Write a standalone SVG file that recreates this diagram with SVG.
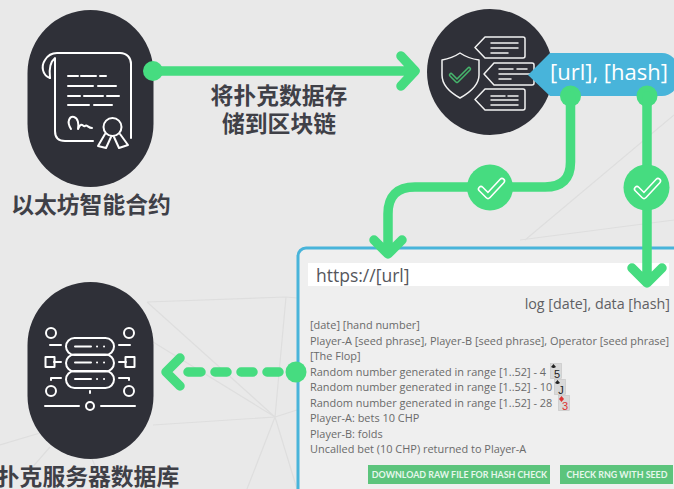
<svg xmlns="http://www.w3.org/2000/svg" width="674" height="489" viewBox="0 0 674 489">
<style>
.ln{fill:none;stroke:#fff;stroke-width:2;stroke-linecap:round;stroke-linejoin:round}
.t{stroke-width:1.5;stroke:#f2f2f2}
.g{fill:none;stroke:#46dc80;stroke-width:9.500;stroke-linecap:round;stroke-linejoin:round}
.dot{fill:#46dc80}
.bg{fill:none;stroke:#dedede;stroke-width:1.2}
.cn{font-family:"Noto Sans CJK SC",sans-serif;font-weight:700;font-size:22.800px;fill:#3f4047}
.lg{font-family:"Open Sans","Liberation Sans",sans-serif;font-size:10.950px;fill:#6a6a6a}
.ui{font-family:"Open Sans","Liberation Sans",sans-serif}
.btn{font-family:"Lato","Liberation Sans",sans-serif;font-weight:700;font-size:8.900px;fill:#e6f7ec;text-anchor:middle}
.card{fill:#d9d9d9;stroke:#c4c4c4;stroke-width:.6}
.num{font-family:"Liberation Sans",sans-serif;font-size:11px;text-anchor:middle}
.chk{fill:none;stroke:#fff;stroke-width:6.500;stroke-linecap:round;stroke-linejoin:round}
.chki{fill:none;stroke:#46dc80;stroke-width:3.400;stroke-linecap:round;stroke-linejoin:round}
</style>
<rect width="674" height="489" fill="#e9e9e9"/>
<g id="background">
<path class="bg" d="M147 302L286 297L297 298M147 302L275 417L153 425M275 417L297 410M275 417L247 489M275 417L297 489M286 297L275 417M153 342L275 417M0 445L40 433M50 447L30 470M92 459L105 489M674 115L525 240M674 220L520 240"/>
</g>
<g id="node-contract">
<rect x="27.500" y="10" width="126" height="177" rx="63" fill="#2f3038"/>
<g class="ln">
<path d="M50 78C42 75 41 66 45 60C48 55 52 53 57 53H120C127 53 131 58 131 64V138"/>
<path d="M50 78C49 70 50 62 55 58V131C55 138 59 141 65 141H93"/>
<path d="M68 76H78M81 76H96M100 76H106M68 86H93M98 86H116M68 96H80M84 96H103M107 96H119M68 105H89M94 105H112"/>
<path d="M71 129C66 121 70 116 74 117C78 118 79 124 78 129C82 120 83 128 85 126C87 124 88 128 92 128"/>
<circle cx="112.500" cy="127" r="9"/>
<path d="M105 134L98 146L106 148L111 137M120 134L128 145L119 148L114 137"/>
</g>
</g>
<g id="node-verify">
<circle cx="490" cy="72" r="63" fill="#2f3038"/>
<g class="ln t">
<path d="M460 53C454 57 448 59 442 60V75C442 86 451 93 460 98C469 93 479 86 479 75V60C472 59 466 57 460 53Z"/>
<path d="M485 37H523Q525 37 525 39V56Q525 58 523 58H485L475 47.500Z"/>
<path d="M494 63H532Q534 63 534 65V83Q534 85 532 85H494L484 74Z"/>
<path d="M485 89H523Q525 89 525 91V108Q525 110 523 110H485L475 99.500Z"/>
<path d="M491 43H518M491 48H518M491 53H508M499 69H513M517 69H527M499 74H534M499 79H511M491 96H505M508 96H518M491 100H518M491 105H518"/>
</g>
<path d="M451 75L457 81L469 69" fill="none" stroke="#46b56c" stroke-width="4.500" stroke-linecap="round" stroke-linejoin="round"/>
<path d="M451 75L457 81L469 69" fill="none" stroke="#2f3038" stroke-width="1.400" stroke-linecap="round" stroke-linejoin="round"/>
</g>
<g id="node-server">
<rect x="27.500" y="282" width="126" height="177" rx="63" fill="#2f3038"/>
<g class="ln" stroke-width="2.200">
<rect x="66" y="338" width="48" height="17" rx="8.500"/>
<rect x="66" y="354.500" width="48" height="17" rx="8.500"/>
<rect x="66" y="371" width="48" height="17" rx="8.500"/>
<path d="M75 346.500H91M75 362.500H91M75 379H91M97 346.500H97.100M104 346.500H104.100M97 362.500H97.100M104 362.500H104.100M97 379H97.100M104 379H104.100"/>
<circle cx="51" cy="333" r="5"/><circle cx="129" cy="333" r="5"/><circle cx="51" cy="391" r="5"/><circle cx="129" cy="391" r="5"/>
<rect x="45.500" y="357" width="9" height="10"/><rect x="125.500" y="357" width="9" height="10"/>
<path d="M50 345H61M130 345H119M54 362H61M126 362H119M51 380V378H61M129 380V378H119M45 406H79M101 406H135M90 391V393"/>
<circle cx="90" cy="406" r="4"/>
</g>
</g>
<g id="panel">
<rect x="298" y="248" width="392" height="260" rx="8" fill="#efefef" stroke="#48b4da" stroke-width="3"/>
<rect x="308" y="263" width="361" height="23" fill="#fff"/>
<text class="ui" x="316" y="282" font-size="17.500" fill="#55565c">https://[url]</text>
<text class="ui" x="670" y="309" text-anchor="end" font-size="14.300" fill="#5f5f64">log [date], data [hash]</text>
<text class="lg" x="310" y="329">[date] [hand number]</text>
<text class="lg" x="310" y="345">Player-A [seed phrase], Player-B [seed phrase], Operator [seed phrase]</text>
<text class="lg" x="310" y="360">[The Flop]</text>
<text class="lg" x="310" y="376">Random number generated in range [1..52] - 4</text>
<text class="lg" x="310" y="391">Random number generated in range [1..52] - 10</text>
<text class="lg" x="310" y="407">Random number generated in range [1..52] - 28</text>
<text class="lg" x="310" y="422">Player-A: bets 10 CHP</text>
<text class="lg" x="310" y="438">Player-B: folds</text>
<text class="lg" x="310" y="453">Uncalled bet (10 CHP) returned to Player-A</text>
<g id="cards">
<rect class="card" x="550.500" y="363.500" width="11" height="15"/>
<text class="num" x="557" y="378" fill="#222">5</text>
<path d="M553.500 364l2.500 3l-2 1h-1l-2-1z" fill="#222"/>
<rect class="card" x="554.500" y="379.500" width="11" height="15"/>
<text class="num" x="561" y="394" fill="#222">J</text>
<path d="M557.500 380l2.500 3l-2 1h-1l-2-1z" fill="#222"/>
<rect class="card" x="558.500" y="395.500" width="11" height="15"/>
<text class="num" x="565" y="410" fill="#d33">3</text>
<path d="M561.500 396l2.500 3l-2.500 3l-2.500-3z" fill="#d33"/>
</g>
<rect x="368" y="465" width="182" height="19" fill="#5cc47c"/>
<text class="btn" x="459.500" y="478">DOWNLOAD RAW FILE FOR HASH CHECK</text>
<rect x="560" y="465" width="113" height="19" fill="#5cc47c"/>
<text class="btn" x="617" y="478">CHECK RNG WITH SEED</text>
</g>
<path id="tag" d="M528 75L550 53H662A16 16 0 0 1 678 69V80A16 16 0 0 1 662 96H550Z" fill="#48b4da"/>
<text class="ui" x="550" y="80" font-size="22" fill="#fff">[url], [hash]</text>
<g id="connectors">
<circle class="dot" cx="153" cy="71" r="10"/>
<path class="g" d="M153 71H414M401 56L415 71L401 86"/>
<circle class="dot" cx="570.500" cy="96" r="10.500"/>
<path class="g" d="M570.500 96V162Q570.500 187 545 187H415Q388 187 388 214V253M374 240L388 254L402 240"/>
<circle class="dot" cx="647" cy="96" r="10.500"/>
<path class="g" d="M647 96V282M632 268L647 283L662 268"/>
<circle class="dot" cx="296" cy="372" r="10.500"/>
<path class="g" d="M188 372H201M215 372H227M241 372H253M267 372H279M180 358L166 372L180 386"/>
<g id="check-1">
<circle class="dot" cx="490" cy="187.500" r="23"/>
<path class="chk" d="M481 189L488 196L502 181"/><path class="chki" d="M481 189L488 196L502 181"/>
</g>
<g id="check-2">
<circle class="dot" cx="646.500" cy="187.500" r="23"/>
<path class="chk" d="M637 189L644 196L658 181"/><path class="chki" d="M637 189L644 196L658 181"/>
</g>
</g>
<g id="labels">
<text class="cn" x="279" y="104" text-anchor="middle">将扑克数据存</text>
<text class="cn" x="279" y="132" text-anchor="middle">储到区块链</text>
<text class="cn" x="91" y="213" text-anchor="middle">以太坊智能合约</text>
<text class="cn" x="88" y="485" text-anchor="middle">扑克服务器数据库</text>
</g>
</svg>
